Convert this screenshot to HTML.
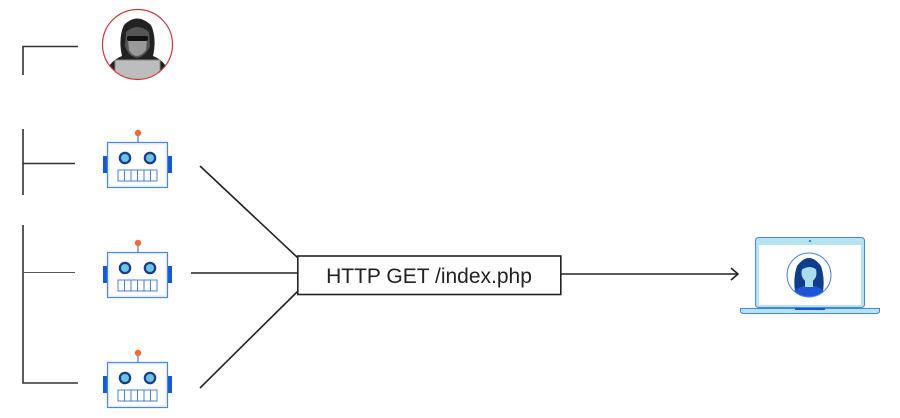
<!DOCTYPE html>
<html><head><meta charset="utf-8"><style>
html,body{margin:0;padding:0;background:#fff;}
svg{display:block;}
</style></head><body>
<svg width="900" height="418" viewBox="0 0 900 418" xmlns="http://www.w3.org/2000/svg">
<defs>
<g id="robot">
  <line x1="31" y1="-8" x2="31" y2="0" stroke="#4a7fd6" stroke-width="1.2"/>
  <circle cx="31" cy="-9" r="3.2" fill="#f26a3a"/>
  <rect x="-4" y="14" width="4" height="17" fill="#1a56d6"/>
  <rect x="61" y="14" width="4" height="17" fill="#1a56d6"/>
  <rect x="0.5" y="0.5" width="60" height="45" fill="#eef5fc" stroke="#4a86e0" stroke-width="1.2"/>
  <rect x="3" y="3" width="55" height="40" fill="#fff"/>
  <circle cx="18" cy="16" r="6.3" fill="#1a3f8a"/>
  <circle cx="18" cy="16" r="4" fill="#6cc3e0"/>
  <circle cx="43" cy="16" r="6.3" fill="#1a3f8a"/>
  <circle cx="43" cy="16" r="4" fill="#6cc3e0"/>
  <rect x="11" y="28" width="39" height="11" fill="#fff" stroke="#4a7fd6" stroke-width="1"/>
  <g stroke="#4a7fd6" stroke-width="1">
    <line x1="17.5" y1="28" x2="17.5" y2="39"/><line x1="24" y1="28" x2="24" y2="39"/>
    <line x1="30.5" y1="28" x2="30.5" y2="39"/><line x1="37" y1="28" x2="37" y2="39"/>
    <line x1="43.5" y1="28" x2="43.5" y2="39"/>
  </g>
</g>
</defs>

<g stroke="#333" stroke-width="1.6" fill="none">
  <polyline points="23,75 23,46.5 78,46.5"/>
  <line x1="23" y1="129" x2="23" y2="195"/>
  <line x1="23" y1="163.5" x2="75" y2="163.5"/>
  <polyline points="23,225 23,383 78,383"/>
</g>
<line x1="23" y1="272.5" x2="75" y2="272.5" stroke="#555" stroke-width="1"/>

<clipPath id="hc"><circle cx="137.5" cy="44.5" r="35"/></clipPath>
<g clip-path="url(#hc)">
  <rect x="100" y="8" width="76" height="74" fill="#fff"/>
  <path d="M104 82 Q106 62 122 56 Q118 38 124 25 Q137 12 151 25 Q157 38 153 56 Q169 62 171 82 Z" fill="#222"/>
  <path d="M126 32 Q137 22 149 32 L150 46 Q146 56 137 58 Q128 56 125 46 Z" fill="#555"/>
  <path d="M128 40 L147 40 L146 50 Q141 56 137 56 Q132 56 129 50 Z" fill="#999"/>
  <rect x="127" y="36" width="21" height="5" rx="2" fill="#111"/>
  <rect x="115" y="60" width="45" height="24" fill="#bdbdbd" stroke="#888" stroke-width="1"/>
</g>
<circle cx="137.5" cy="44.5" r="35" fill="none" stroke="#c8393c" stroke-width="1.2"/>

<use href="#robot" x="107" y="142"/>
<use href="#robot" x="107" y="252"/>
<use href="#robot" x="107" y="362"/>

<g stroke="#222" stroke-width="1.6" fill="none">
  <line x1="200" y1="166" x2="298" y2="258"/>
  <line x1="191" y1="273" x2="298" y2="273"/>
  <line x1="200" y1="388" x2="298" y2="291"/>
  <line x1="561" y1="274" x2="737" y2="274"/>
  <polyline points="731,268 738,274 731,280"/>
</g>
<rect x="297.8" y="256" width="263" height="38.5" fill="#fff" stroke="#222" stroke-width="1.6"/>
<text x="429" y="283" text-anchor="middle" font-family="Liberation Sans, sans-serif" font-size="21" fill="#222">HTTP GET /index.php</text>

<rect x="755.5" y="237.5" width="109" height="70" rx="3" fill="#b5e3f0" stroke="#4a86e0" stroke-width="1"/>
<rect x="759" y="245" width="102" height="60" fill="#fff"/>
<circle cx="810" cy="241" r="1" fill="#1a56d6"/>
<path d="M740.5 308.5 H879.5 V311 Q879.5 313.5 876 313.5 H744 Q740.5 313.5 740.5 311 Z" fill="#b5e3f0" stroke="#4a86e0" stroke-width="1"/>
<rect x="795" y="308" width="30" height="2" fill="#1a56d6"/>
<clipPath id="wc"><circle cx="809" cy="275" r="22"/></clipPath>
<g clip-path="url(#wc)">
  <rect x="785" y="251" width="48" height="48" fill="#fff"/>
  <path d="M795 291 Q793 278 797 266 Q809 250 821 266 Q825 278 823 291 Z" fill="#0f3d8a"/>
  <path d="M789 300 Q792 287 809 285 Q826 287 829 300 Z" fill="#1a56d6"/>
  <rect x="805" y="280" width="8" height="7" fill="#a9dcee"/>
  <ellipse cx="809" cy="273" rx="7.5" ry="9" fill="#a9dcee"/>
  <path d="M801 270 Q804 260 814 262 Q818 266 817 270 Q810 264 801 270 Z" fill="#0f3d8a"/>
</g>
<circle cx="809" cy="275" r="22" fill="none" stroke="#4a86e0" stroke-width="1"/>
</svg>
</body></html>
